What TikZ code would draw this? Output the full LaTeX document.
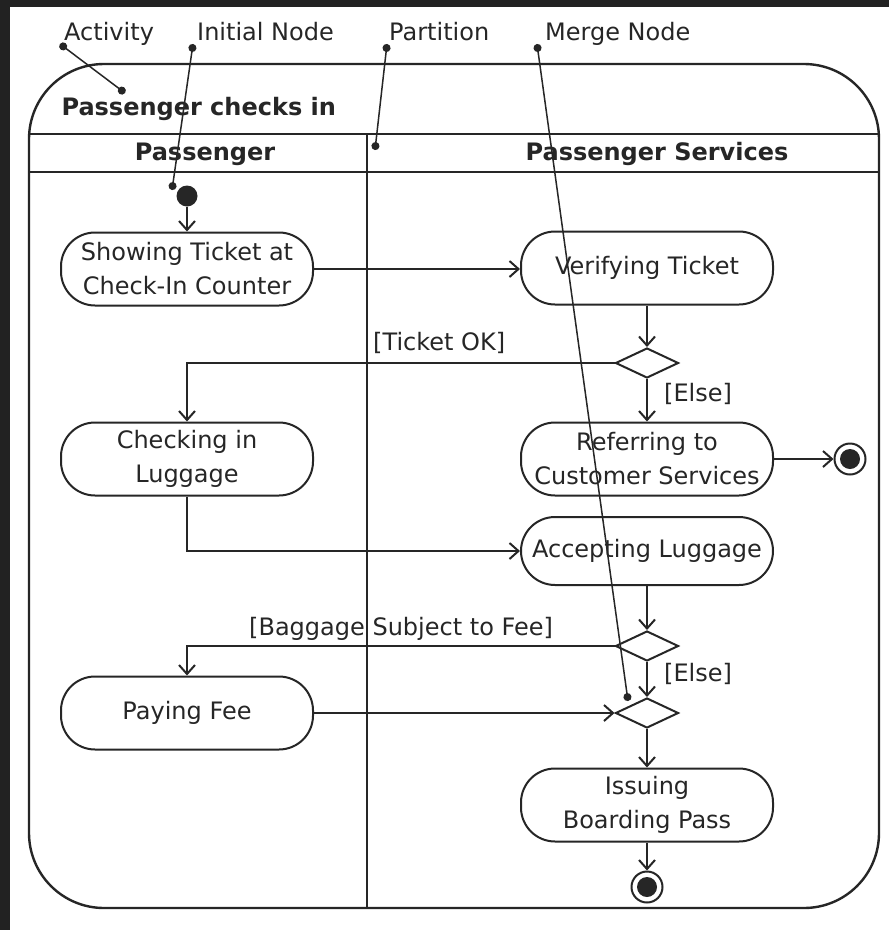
\documentclass[tikz,border=0pt]{standalone}
\usepackage{fontspec}
\setmainfont{DejaVu Sans}
\usetikzlibrary{arrows.meta,shapes.geometric,positioning}
\definecolor{inkgray}{HTML}{262626}
\definecolor{edgedark}{HTML}{222222}

\begin{document}
\begin{tikzpicture}[x=1pt,y=-1pt,
    every node/.style={text=inkgray, font=\fontsize{24}{34}\selectfont},
    action/.style={draw=inkgray, line width=2pt, rectangle, rounded corners=34pt,
        minimum width=252pt, minimum height=73pt, align=center, inner sep=2pt},
    choice/.style={draw=inkgray, line width=2pt, diamond, minimum width=63pt,
        minimum height=30pt, inner sep=0pt},
    startnode/.style={circle, fill=inkgray, minimum size=21pt, inner sep=0pt},
    endnode/.style={circle, draw=inkgray, line width=2pt, minimum size=31pt, inner sep=0pt,
        path picture={\fill[inkgray] (path picture bounding box.center) circle (10pt);}},
    flow/.style={draw=inkgray, line width=2pt, -{Straight Barb[length=9pt,width=16pt]}},
    leader/.style={draw=inkgray, line width=1.5pt, {Circle[length=8pt]}-{Circle[length=8pt]}},
    frame/.style={draw=inkgray, line width=2.4pt},
    guard/.style={inner sep=0pt},
    heading/.style={font=\fontsize{24}{30}\selectfont\bfseries}]

    % dark edge of the scan
    \fill[edgedark] (0,0) rectangle (889,930);
    \fill[white] (10,7) rectangle (889,930);

    % activity frame and partitions
    \draw[frame, rounded corners=75pt] (29,64) rectangle (879,908);
    \draw[frame] (29,134) -- (879,134);
    \draw[frame] (29,172) -- (879,172);
    \draw[frame] (367,134) -- (367,908);

    \node[heading, anchor=base west] (actName) at (58,115) {Passenger checks in};
    \node[heading, anchor=base] (laneA) at (205,160) {Passenger};
    \node[heading, anchor=base] (laneB) at (657,160) {Passenger Services};

    % actions
    \node[startnode] (init) at (187,196) {};
    \node[action] (show) at (187,269) {Showing Ticket at\\Check-In Counter};
    \node[action] (verify) at (647,268) {Verifying Ticket};
    \node[choice] (dec1) at (647,363) {};
    \node[action] (check) at (187,459) {Checking in\\Luggage};
    \node[action] (refer) at (647,459) {Referring to\\Customer Services};
    \node[endnode] (stop1) at (850,459) {};
    \node[action, minimum height=68pt] (accept) at (647,551) {Accepting Luggage};
    \node[choice] (dec2) at (647,646) {};
    \node[action] (pay) at (187,713) {Paying Fee};
    \node[choice] (merge) at (647,713) {};
    \node[action] (issue) at (647,805) {Issuing\\Boarding Pass};
    \node[endnode] (stop2) at (647,887) {};

    % guards
    \node[guard, anchor=base west] (okGuard) at (373,350) {[Ticket OK]};
    \node[guard, anchor=base west] (else1) at (664,401) {[Else]};
    \node[guard, anchor=base west] (feeGuard) at (249,635) {[Baggage Subject to Fee]};
    \node[guard, anchor=base west] (else2) at (664,681) {[Else]};

    % flows
    \draw[flow] (init) -- (show);
    \draw[flow] (show.east) -- (show.east -| verify.west);
    \draw[flow] (verify) -- (dec1);
    \draw[flow] (dec1) -| (check);
    \draw[flow] (dec1) -- (refer);
    \draw[flow] (refer) -- (stop1);
    \draw[flow] (check) |- (accept);
    \draw[flow] (accept) -- (dec2);
    \draw[flow] (dec2) -| (pay);
    \draw[flow] (dec2) -- (merge);
    \draw[flow] (pay) -- (merge);
    \draw[flow] (merge) -- (issue);
    \draw[flow] (issue) -- (stop2);

    % callouts
    \node[guard, anchor=base west] (lblAct) at (64,40) {Activity};
    \node[guard, anchor=base west] (lblInit) at (197,40) {Initial Node};
    \node[guard, anchor=base west] (lblPart) at (389,40) {Partition};
    \node[guard, anchor=base west] (lblMerge) at (545,40) {Merge Node};
    \coordinate (actFoot) at (60,44);
    \coordinate (actTip) at (125,93);
    \coordinate (initFoot) at (193,44);
    \coordinate (initTip) at (172,190);
    \coordinate (partFoot) at (387,44);
    \coordinate (partTip) at (375,150);
    \coordinate (mergeFoot) at (537,44);
    \coordinate (mergeTip) at (628,701);
    \draw[leader] (actFoot) -- (actTip);
    \draw[leader] (initFoot) -- (initTip);
    \draw[leader] (partFoot) -- (partTip);
    \draw[leader] (mergeFoot) -- (mergeTip);
\end{tikzpicture}
\end{document}
